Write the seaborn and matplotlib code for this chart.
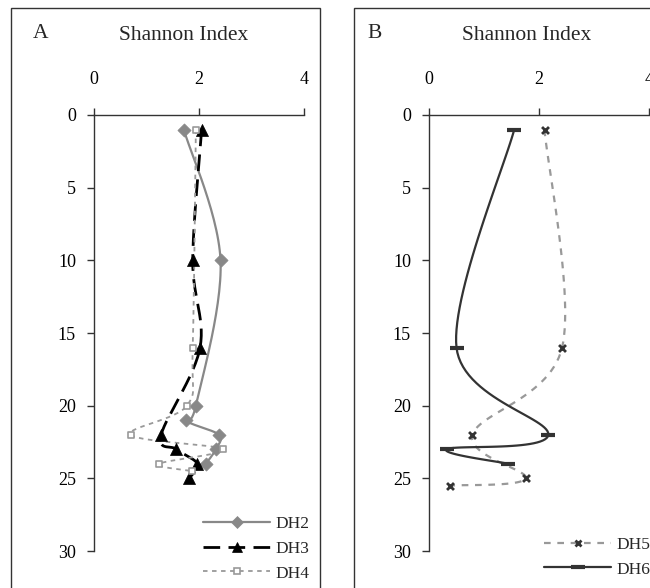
import numpy as np
import pandas as pd
import matplotlib
matplotlib.use("Agg")
import matplotlib.pyplot as plt
from matplotlib.lines import Line2D
from matplotlib.patches import Rectangle
import seaborn as sns

# ---------------- data ----------------
dh2_depth = [1, 10, 20, 21, 22, 23, 24]
dh2_val = [1.71, 2.41, 1.94, 1.75, 2.38, 2.32, 2.13]
dh3_depth = [1, 10, 16, 22, 23, 24, 25]
dh3_val = [2.05, 1.88, 2.02, 1.28, 1.57, 1.97, 1.81]
dh4_depth = [1, 16, 20, 22, 23, 24, 24.5]
dh4_val = [1.94, 1.88, 1.77, 0.70, 2.46, 1.24, 1.87]
dh5_depth = [1, 16, 22, 25, 25.5]
dh5_val = [2.10, 2.42, 0.79, 1.76, 0.38]
dh6_depth = [1, 16, 22, 23, 24]
dh6_val = [1.55, 0.50, 2.17, 0.32, 1.44]

x_ticks = [0, 2, 4]
y_ticks = [0, 5, 10, 15, 20, 25, 30]
x_title = "Shannon Index"

sns.set_theme(style="white")
plt.rcParams["font.family"] = ["Liberation Serif", "DejaVu Serif"]
plt.rcParams["axes.unicode_minus"] = False


def smooth(xs, ys, n=30):
    """Excel-like smoothed line (Catmull-Rom Bezier) through the points."""
    P = np.column_stack([xs, ys]).astype(float)
    out = [P[0]]
    m = len(P)
    t = np.linspace(0, 1, n)[1:, None]
    for i in range(m - 1):
        p0 = P[i - 1] if i > 0 else P[i]
        p1 = P[i]
        p2 = P[i + 1]
        p3 = P[i + 2] if i + 2 < m else P[i + 1]
        c1 = p1 + (p2 - p0) / 6.0
        c2 = p2 - (p3 - p1) / 6.0
        seg = ((1 - t) ** 3) * p1 + 3 * ((1 - t) ** 2) * t * c1 + 3 * (1 - t) * t ** 2 * c2 + t ** 3 * p2
        out.extend(seg)
    out = np.array(out)
    return pd.DataFrame({"x": out[:, 0], "y": out[:, 1]})


W, H = 650, 588
fig = plt.figure(figsize=(W / 100, H / 100), dpi=100)

def px_axes(l, r, t, b):
    return fig.add_axes([l / W, 1 - b / H, (r - l) / W, (b - t) / H])

axA = px_axes(94, 304, 115, 551)
axB = px_axes(429, 649, 115, 551)

# outer chart frames
fig.patches.append(Rectangle((10.5 / W, -0.1), 309 / W, 1.1 - 8 / H, transform=fig.transFigure,
                             fill=False, edgecolor="#333333", linewidth=1.0, zorder=-5))
fig.patches.append(Rectangle((354 / W, -0.1), 0.6, 1.1 - 8 / H, transform=fig.transFigure,
                             fill=False, edgecolor="#333333", linewidth=1.0, zorder=-5))

series_A = [
    ("DH2", dh2_val, dh2_depth, dict(color="#888888", lw=1.6, ls="-"),
     dict(marker="D", s=45, color="#888888", edgecolor="#888888", linewidth=0.5)),
    ("DH3", dh3_val, dh3_depth, dict(color="black", lw=2.0, ls=(0, (6, 3))),
     dict(marker="^", s=75, color="black", edgecolor="black", linewidth=0.5)),
    ("DH4", dh4_val, dh4_depth, dict(color="#999999", lw=1.3, ls=(0, (2.5, 2.5))),
     dict(marker="s", s=18, color="white", edgecolor="#999999", linewidth=1.2)),
]
series_B = [
    ("DH5", dh5_val, dh5_depth, dict(color="#999999", lw=1.6, ls=(0, (3, 3))),
     dict(marker="x", s=25, color="#333333", linewidth=2.0)),
    ("DH6", dh6_val, dh6_depth, dict(color="#333333", lw=1.6, ls="-"),
     dict(marker="_", s=90, color="#333333", linewidth=3.0)),
]

for ax, series in ((axA, series_A), (axB, series_B)):
    ax.set_facecolor("none")
    handles = []
    for name, xv, yv, lkw, mkw in series:
        sm = smooth(xv, yv)
        sns.lineplot(data=sm, x="x", y="y", sort=False, estimator=None, ax=ax,
                     color=lkw["color"], linewidth=lkw["lw"], linestyle=lkw["ls"],
                     legend=False, zorder=2)
        sns.scatterplot(x=xv, y=yv, ax=ax, legend=False, zorder=3, **mkw)
        if mkw["marker"] in ("x", "_"):
            h = Line2D([], [], color=lkw["color"], lw=lkw["lw"], ls=lkw["ls"],
                       marker=mkw["marker"], markersize=np.sqrt(mkw["s"]),
                       markeredgecolor=mkw["color"], markeredgewidth=mkw["linewidth"])
        else:
            h = Line2D([], [], color=lkw["color"], lw=lkw["lw"], ls=lkw["ls"],
                       marker=mkw["marker"], markersize=np.sqrt(mkw["s"]) * 0.9,
                       markerfacecolor=mkw["color"], markeredgecolor=mkw.get("edgecolor", mkw["color"]),
                       markeredgewidth=mkw["linewidth"])
        handles.append((h, name))
    ax.set_xlim(0, 4)
    ax.set_ylim(30, 0)
    ax.set_xticks(x_ticks)
    ax.set_yticks(y_ticks)
    ax.xaxis.tick_top()
    ax.xaxis.set_label_position("top")
    ax.set_xlabel("")
    ax.set_ylabel("")
    for s in ("right", "bottom"):
        ax.spines[s].set_visible(False)
    for s in ("top", "left"):
        ax.spines[s].set_color("#333333")
        ax.spines[s].set_linewidth(1.0)
    ax.tick_params(axis="x", which="major", direction="out", length=5, width=1.0,
                   color="#333333", pad=14.5, labelsize=13, top=True, bottom=False)
    ax.tick_params(axis="y", which="major", direction="out", length=5, width=1.0,
                   color="#333333", pad=8, labelsize=13, left=True)
    for lbl in ax.get_xticklabels() + ax.get_yticklabels():
        lbl.set_color("black")
    ax._my_handles = handles

# legends
def add_legend(ax, left_px, bottom_px):
    hs = [h for h, _ in ax._my_handles]
    ls = [n for _, n in ax._my_handles]
    leg = ax.legend(hs, ls, loc="lower left",
                    bbox_to_anchor=(left_px / W, 1 - bottom_px / H),
                    bbox_transform=fig.transFigure, frameon=True, framealpha=1,
                    facecolor="white", edgecolor="white", fontsize=12.5,
                    handlelength=3.85, handletextpad=0.3, labelspacing=0.5,
                    borderpad=0.2, borderaxespad=0, fancybox=False)
    leg.set_zorder(10)
    return leg

add_legend(axA, 200, 585)
add_legend(axB, 541, 581)

# titles and panel letters
fig.text(184 / W, 1 - 36 / H, x_title, ha="center", va="center", fontsize=15.5)
fig.text(527 / W, 1 - 36 / H, x_title, ha="center", va="center", fontsize=15.5)
fig.text(41 / W, 1 - 34 / H, "A", ha="center", va="center", fontsize=15.5)
fig.text(375 / W, 1 - 34 / H, "B", ha="center", va="center", fontsize=15.5)

fig.savefig("out.png", dpi=100, facecolor="white")
